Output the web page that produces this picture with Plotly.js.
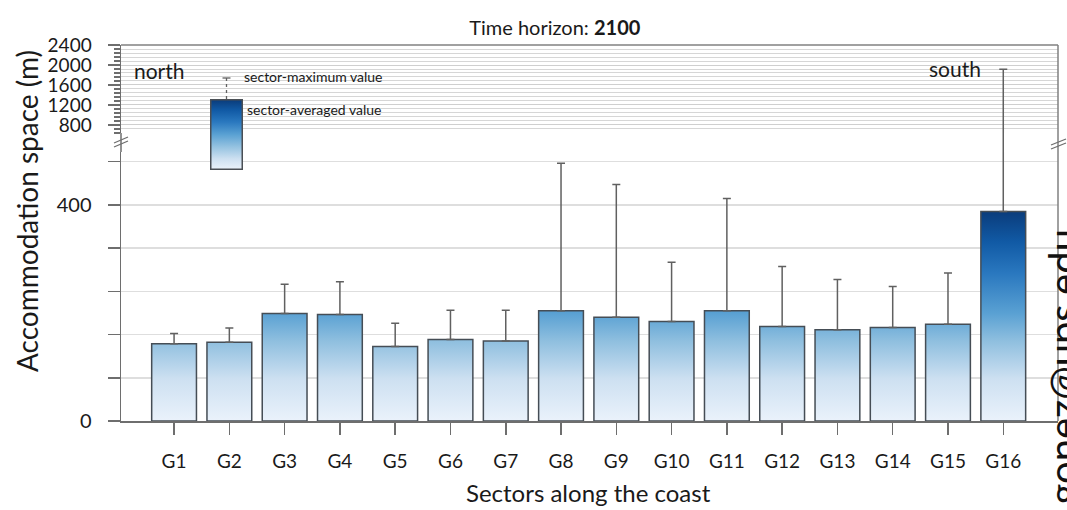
<!DOCTYPE html>
<html>
<head>
<meta charset="utf-8">
<script src="https://cdn.plot.ly/plotly-3.0.1.min.js"></script>
<style>
html,body{margin:0;padding:0;background:#fff;overflow:hidden;}
#chart{width:1067px;height:510px;}
</style>
</head>
<body>
<div id="chart"></div>
<script>
// ---- data ----
var categories = ['G1','G2','G3','G4','G5','G6','G7','G8','G9','G10','G11','G12','G13','G14','G15','G16'];
var meanValues = [143, 146, 199, 197, 138, 151, 148, 204, 192, 184, 204, 175, 169, 173, 179, 388];
var maxValues  = [162, 172, 253, 258, 181, 205, 205, 477, 438, 294, 412, 286, 262, 249, 274, 1914];
var lowerTickVals = [0, 80, 160, 240, 320, 400, 480];
var lowerTickText = ['0', '', '', '', '', '400', ''];
var upperTickVals = [800, 1200, 1600, 2000, 2400];
var upperTickText = ['800', '1200', '1600', '2000', '2400'];

// ---- layout constants ----
var FONT = 'Lato, "Open Sans", "DejaVu Sans", sans-serif';
var lowerRange = [0, 498];
var upperRange = [640, 2400];
var lowerDomain = [0, 0.7154];
var upperDomain = [0.766, 1];
var axisColor = '#6e6e6e';
var errColor = '#606060';

var errPlus = maxValues.map(function(m, i){ return m - meanValues[i]; });
var errMinus = meanValues.map(function(){ return 0; });

var lowerBars = {
  type: 'bar', x: categories, y: meanValues, xaxis: 'x', yaxis: 'y',
  marker: {color: '#8fbfdf', line: {color: '#454d55', width: 1.5}},
  error_y: {type: 'data', symmetric: false, array: errPlus, arrayminus: errMinus,
            color: errColor, thickness: 1.5, width: 4},
  hoverinfo: 'skip', showlegend: false
};
var upperBars = {
  type: 'bar', x: categories, y: meanValues, xaxis: 'x2', yaxis: 'y2',
  marker: {color: 'rgba(0,0,0,0)', line: {width: 0}},
  error_y: {type: 'data', symmetric: false, array: errPlus, arrayminus: errMinus,
            color: errColor, thickness: 1.5, width: 4},
  hoverinfo: 'skip', showlegend: false
};

function px2paperX(p){ return (p - 121) / 937; }
function px2paperY(p){ return (421 - p) / 376; }

var shapes = [
  {type:'line', xref:'paper', yref:'paper', x0:0, x1:1, y0:1, y1:1, line:{color:'#808080', width:1.5}},
  {type:'line', xref:'paper', yref:'paper', x0:1, x1:1, y0:0, y1:1, line:{color:'#808080', width:1.5}},
  {type:'line', xref:'paper', yref:'paper', x0:0, x1:0, y0:lowerDomain[1], y1:upperDomain[0], line:{color:axisColor, width:1.5}},
  {type:'line', xref:'paper', yref:'paper', x0:px2paperX(114), x1:px2paperX(128), y0:px2paperY(143), y1:px2paperY(137), line:{color:axisColor, width:1.3}},
  {type:'line', xref:'paper', yref:'paper', x0:px2paperX(114), x1:px2paperX(128), y0:px2paperY(147), y1:px2paperY(141), line:{color:axisColor, width:1.3}},
  {type:'line', xref:'paper', yref:'paper', x0:px2paperX(1051), x1:px2paperX(1066), y0:px2paperY(145), y1:px2paperY(139), line:{color:axisColor, width:1.3}},
  {type:'line', xref:'paper', yref:'paper', x0:px2paperX(1051), x1:px2paperX(1066), y0:px2paperY(149), y1:px2paperY(143), line:{color:axisColor, width:1.3}},
  {type:'line', xref:'paper', yref:'paper', x0:px2paperX(226.5), x1:px2paperX(226.5), y0:px2paperY(99), y1:px2paperY(78), line:{color:errColor, width:1.3, dash:'dot'}},
  {type:'line', xref:'paper', yref:'paper', x0:px2paperX(222.5), x1:px2paperX(230.5), y0:px2paperY(78), y1:px2paperY(78), line:{color:errColor, width:1.3}}
];
categories.forEach(function(c, i){
  if (maxValues[i] > lowerRange[1]) {
    shapes.push({type:'line', xref:'x', yref:'paper', x0:c, x1:c,
      y0:lowerDomain[1], y1:upperDomain[0], line:{color:errColor, width:1.5}});
  }
});

var legendSvg = '<svg xmlns="http://www.w3.org/2000/svg" width="33" height="71" viewBox="0 0 33 71" preserveAspectRatio="none">' +
  '<defs><linearGradient id="lg" x1="0" y1="0" x2="0" y2="1">' +
  '<stop offset="0" stop-color="#0a3b7a"/><stop offset="0.15" stop-color="#115aa5"/>' +
  '<stop offset="0.32" stop-color="#2a78bf"/><stop offset="0.5" stop-color="#5aa1d3"/>' +
  '<stop offset="0.66" stop-color="#8fbfdf"/><stop offset="0.85" stop-color="#cde0f1"/>' +
  '<stop offset="1" stop-color="#eaf2fb"/></linearGradient></defs>' +
  '<rect x="0.75" y="0.75" width="31.5" height="69.5" fill="url(#lg)" stroke="#4a4f55" stroke-width="1.5"/></svg>';

var annotations = [
  {text:'Accommodation space (m)', xref:'paper', yref:'paper', x:px2paperX(27), y:px2paperY(211),
   textangle:-90, showarrow:false, xanchor:'center', yanchor:'middle', font:{family:FONT, size:28, color:'#1a1a1a'}},
  {text:'Sectors along the coast', xref:'paper', yref:'paper', x:px2paperX(588), y:px2paperY(492),
   showarrow:false, xanchor:'center', yanchor:'middle', font:{family:FONT, size:24, color:'#1a1a1a'}},
  {text:'north', xref:'paper', yref:'paper', x:px2paperX(132), y:px2paperY(70),
   showarrow:false, xanchor:'left', yanchor:'middle', font:{family:FONT, size:21, color:'#1a1a1a'}},
  {text:'south', xref:'paper', yref:'paper', x:px2paperX(927), y:px2paperY(68),
   showarrow:false, xanchor:'left', yanchor:'middle', font:{family:FONT, size:21, color:'#1a1a1a'}},
  {text:'sector-maximum value', xref:'paper', yref:'paper', x:px2paperX(242), y:px2paperY(76),
   showarrow:false, xanchor:'left', yanchor:'middle', font:{family:FONT, size:14, color:'#1a1a1a'}},
  {text:'sector-averaged value', xref:'paper', yref:'paper', x:px2paperX(245), y:px2paperY(109),
   showarrow:false, xanchor:'left', yanchor:'middle', font:{family:FONT, size:14, color:'#1a1a1a'}},
  {text:'gonez@ups.edu', xref:'paper', yref:'paper', x:px2paperX(1036), y:px2paperY(228),
   textangle:-90, showarrow:false, xanchor:'left', yanchor:'top', font:{family:FONT, size:40, color:'#111'}}
];

var layout = {
  width: 1067, height: 510,
  margin: {l:121, r:9, t:45, b:89, pad:0},
  paper_bgcolor: '#ffffff', plot_bgcolor: '#ffffff',
  font: {family: FONT, color: '#1a1a1a'},
  showlegend: false,
  bargap: 0.19,
  title: {text: 'Time horizon: <b>2100</b>', font:{family:FONT, size:20, color:'#1a1a1a'},
          xref:'paper', x:0.463, xanchor:'center', yref:'container', y:1 - 28/510, yanchor:'middle'},
  xaxis: {
    type:'category', domain:[0,1], anchor:'y', range:[-0.96, 15.99],
    showline:true, linecolor:axisColor, linewidth:1.5,
    ticks:'outside', ticklen:12, tickwidth:1.5, tickcolor:axisColor,
    tickfont:{family:FONT, size:19, color:'#1a1a1a'}, ticklabelstandoff:11,
    showgrid:false, zeroline:false, fixedrange:true
  },
  yaxis: {
    domain: lowerDomain, anchor:'x', range: lowerRange,
    tickmode:'array', tickvals: lowerTickVals, ticktext: lowerTickText,
    showline:true, linecolor:axisColor, linewidth:1.5,
    ticks:'outside', ticklen:12, tickwidth:1.5, tickcolor:axisColor,
    tickfont:{family:FONT, size:20, color:'#1a1a1a'}, ticklabelstandoff:12,
    showgrid:true, gridcolor:'#dedede', gridwidth:1.5, zeroline:false, fixedrange:true
  },
  xaxis2: {
    type:'category', domain:[0,1], anchor:'y2', matches:'x', range:[-0.96, 15.99],
    visible:false, fixedrange:true
  },
  yaxis2: {
    domain: upperDomain, anchor:'x2', range: upperRange,
    tickmode:'array', tickvals: upperTickVals, ticktext: upperTickText,
    showline:true, linecolor:axisColor, linewidth:1.5,
    ticks:'outside', ticklen:12, tickwidth:1.5, tickcolor:axisColor,
    tickfont:{family:FONT, size:19, color:'#1a1a1a'}, ticklabelstandoff:12,
    showgrid:true, gridcolor:'#cfcfcf', gridwidth:1, zeroline:false, fixedrange:true,
    minor: {tickmode:'linear', tick0:0, dtick:80, ticks:'outside', ticklen:6, tickwidth:1.2,
            tickcolor:axisColor, showgrid:true, gridcolor:'#d6d6d6', gridwidth:1}
  },
  shapes: shapes,
  annotations: annotations,
  images: [{
    source: 'data:image/svg+xml;charset=utf-8,' + encodeURIComponent(legendSvg),
    xref:'paper', yref:'paper', x:px2paperX(210), y:px2paperY(99),
    sizex: 33/937, sizey: 71/376, xanchor:'left', yanchor:'top', sizing:'stretch', layer:'above'
  }]
};

var gd = document.getElementById('chart');
Plotly.newPlot(gd, [lowerBars, upperBars], layout, {staticPlot:true, displayModeBar:false}).then(function(){
  var ns = 'http://www.w3.org/2000/svg';
  var svg = gd.querySelector('svg.main-svg');
  var defs = svg.querySelector('defs') || svg.insertBefore(document.createElementNS(ns,'defs'), svg.firstChild);
  var ya = gd._fullLayout.yaxis;
  var grad = document.createElementNS(ns, 'linearGradient');
  grad.setAttribute('id', 'barGrad');
  grad.setAttribute('gradientUnits', 'userSpaceOnUse');
  grad.setAttribute('x1', '0'); grad.setAttribute('x2', '0');
  grad.setAttribute('y1', String(ya.l2p(0)));
  grad.setAttribute('y2', String(ya.l2p(390)));
  var stops = [[0,'#eaf2fb'],[0.2,'#cde0f1'],[0.38,'#8fbfdf'],[0.51,'#5aa1d3'],[0.7,'#2a78bf'],[0.85,'#115aa5'],[1,'#0a3b7a']];
  stops.forEach(function(s){
    var st = document.createElementNS(ns, 'stop');
    st.setAttribute('offset', String(s[0]));
    st.setAttribute('stop-color', s[1]);
    grad.appendChild(st);
  });
  defs.appendChild(grad);
  var paths = gd.querySelectorAll('.subplot.xy .barlayer .point path');
  paths.forEach(function(p){ p.style.fill = 'url(#barGrad)'; });
});
</script>
</body>
</html>
